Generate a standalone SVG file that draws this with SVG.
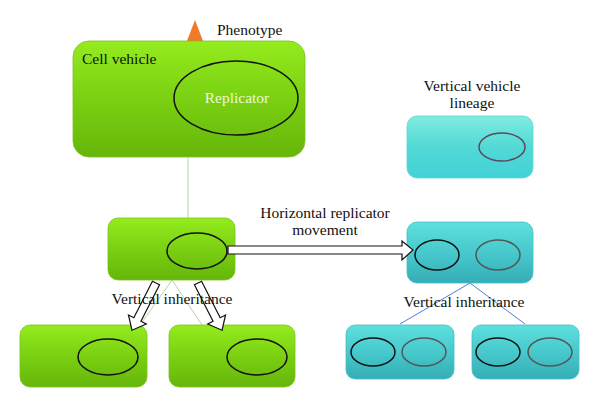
<svg xmlns="http://www.w3.org/2000/svg" width="600" height="408" viewBox="0 0 600 408">
<defs>
<linearGradient id="gG" x1="0" y1="0" x2="0" y2="1">
<stop offset="0" stop-color="#94ec1e"/>
<stop offset="0.5" stop-color="#7ad012"/>
<stop offset="1" stop-color="#66b60a"/>
</linearGradient>
<linearGradient id="gT" x1="0" y1="0" x2="0" y2="1">
<stop offset="0" stop-color="#5ee0de"/>
<stop offset="0.5" stop-color="#47c9cd"/>
<stop offset="1" stop-color="#35adb6"/>
</linearGradient>
<linearGradient id="gT2" x1="0" y1="0" x2="0" y2="1">
<stop offset="0" stop-color="#80ece0"/>
<stop offset="0.5" stop-color="#52d9d6"/>
<stop offset="1" stop-color="#42d2d6"/>
</linearGradient>
</defs>
<style>
text{font-family:'Liberation Serif','DejaVu Serif',serif;font-size:15.5px;fill:#111}
.g{fill:url(#gG);stroke:#7cc020;stroke-width:0.8}
.t{fill:url(#gT);stroke:#48bcc4;stroke-width:0.8}
.t2{fill:url(#gT2);stroke:#60d4d4;stroke-width:0.8}
.eb{fill:none;stroke:#111;stroke-width:1.5}
.eg{fill:none;stroke:#555;stroke-width:1.5}
.ep{fill:none;stroke:#5a4a5a;stroke-width:1.5}
.arr{fill:#fff;stroke:#111;stroke-width:1.2}
</style>
<g id="connectors">
<line x1="188" y1="157" x2="188" y2="218" stroke="#b4d6a6" stroke-width="1"/>
<line x1="172" y1="280" x2="140" y2="325" stroke="#b4d6a6" stroke-width="1"/>
<line x1="172" y1="280" x2="202" y2="325" stroke="#b4d6a6" stroke-width="1"/>
<line x1="470" y1="283" x2="400" y2="324" stroke="#4a7fd8" stroke-width="1"/>
<line x1="470" y1="283" x2="525" y2="324" stroke="#4a7fd8" stroke-width="1"/>
</g>
<g id="phenotype">
<polygon points="195,20 187,41 203,41" fill="#f07a2a"/>
<text x="217" y="35" font-family="Liberation Serif, serif">Phenotype</text>
</g>
<g id="cell-vehicle">
<rect x="73" y="41" width="232" height="116" rx="16" class="g"/>
<ellipse cx="236" cy="98" rx="62" ry="37" class="eb"/>
<text x="82" y="64" font-family="Liberation Serif, serif">Cell vehicle</text>
<text x="237" y="103" text-anchor="middle" font-family="Liberation Serif, serif" style="fill:#eef8d8">Replicator</text>
</g>
<g id="mid-green">
<rect x="108" y="218" width="127" height="62" rx="10" class="g"/>
<ellipse cx="197" cy="251" rx="30" ry="18" class="eb"/>
</g>
<g id="bottom-green-left">
<rect x="20" y="325" width="127" height="62" rx="10" class="g"/>
<ellipse cx="108" cy="357" rx="30" ry="18" class="eb"/>
</g>
<g id="bottom-green-right">
<rect x="169" y="325" width="126" height="62" rx="10" class="g"/>
<ellipse cx="257" cy="357" rx="30" ry="18" class="eb"/>
</g>
<g id="top-teal">
<rect x="407" y="116" width="126" height="62" rx="10" class="t2"/>
<ellipse cx="502" cy="147" rx="23" ry="14" class="ep"/>
<text x="472" y="91" text-anchor="middle" font-family="Liberation Serif, serif">Vertical vehicle</text>
<text x="472" y="108" text-anchor="middle" font-family="Liberation Serif, serif">lineage</text>
</g>
<g id="mid-teal">
<rect x="407" y="222" width="126" height="61" rx="10" class="t"/>
<ellipse cx="437" cy="255" rx="22" ry="15" class="eb"/>
<ellipse cx="498" cy="255" rx="22" ry="15" class="eg"/>
</g>
<g id="bottom-teal-left">
<rect x="346" y="325" width="108" height="54" rx="9" class="t"/>
<ellipse cx="373" cy="352" rx="22" ry="14" class="eb"/>
<ellipse cx="424" cy="352" rx="22" ry="14" class="eg"/>
</g>
<g id="bottom-teal-right">
<rect x="472" y="325" width="107" height="54" rx="9" class="t"/>
<ellipse cx="498" cy="352" rx="22" ry="14" class="eb"/>
<ellipse cx="550" cy="352" rx="22" ry="14" class="eg"/>
</g>
<g id="arrows">
<polygon class="arr" points="228,246 402,246 402,241 413,250 402,260 402,254 228,254"/>
<polygon class="arr" transform="translate(156,283) rotate(117)" points="0,-4 41,-4 41,-10 53,0 41,10 41,4 0,4"/>
<polygon class="arr" transform="translate(198,283) rotate(63)" points="0,-4 41,-4 41,-10 53,0 41,10 41,4 0,4"/>
</g>
<g id="labels">
<text x="325" y="218" text-anchor="middle" font-family="Liberation Serif, serif">Horizontal replicator</text>
<text x="325" y="235" text-anchor="middle" font-family="Liberation Serif, serif">movement</text>
<text x="172" y="304" text-anchor="middle" font-family="Liberation Serif, serif">Vertical inheritance</text>
<text x="464" y="307" text-anchor="middle" font-family="Liberation Serif, serif">Vertical inheritance</text>
</g>
</svg>
